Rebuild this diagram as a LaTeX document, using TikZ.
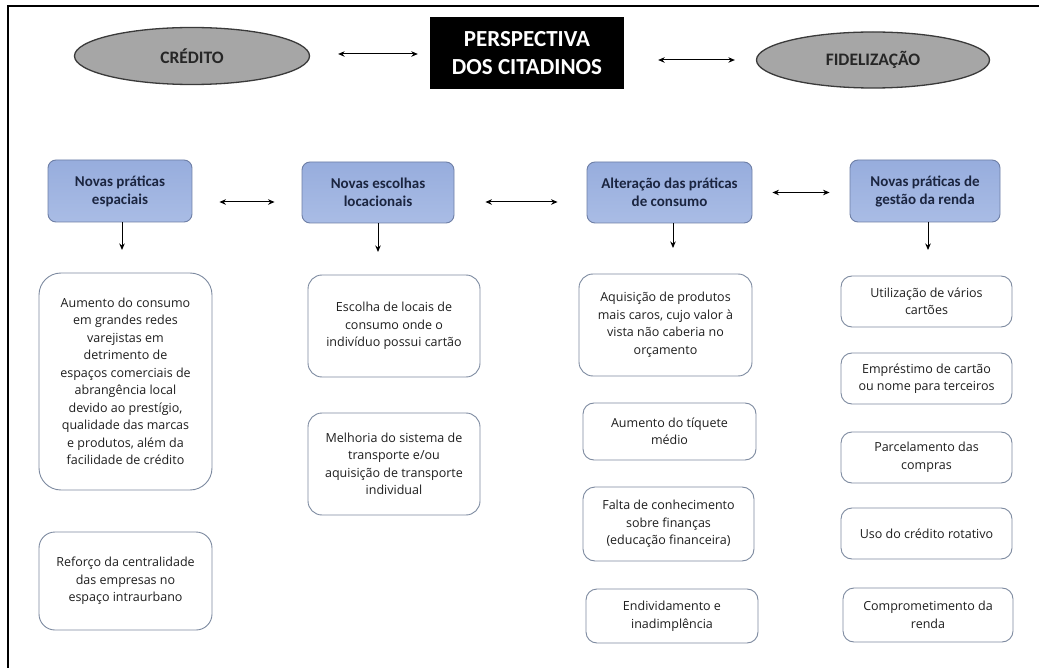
\documentclass[tikz,border=0pt]{standalone}
\usepackage{fontspec}
\setmainfont{Open Sans}
\newfontfamily\carlito{Carlito}
\usetikzlibrary{shapes.geometric,arrows.meta}
\definecolor{hdrtop}{HTML}{97ADDD}
\definecolor{hdrbot}{HTML}{A9BCE5}
\definecolor{hdrborder}{HTML}{6E7FA6}
\definecolor{hdrtext}{HTML}{1B2540}
\definecolor{itemborder}{HTML}{7D8AA0}
\definecolor{itemtext}{HTML}{1E1E1E}
\definecolor{ovalfill}{HTML}{A6A6A6}
\definecolor{ovalborder}{HTML}{3A3A3A}
\definecolor{ovaltext}{HTML}{262626}
\tikzset{
  hdr/.style={draw=hdrborder, line width=0.9pt, rounded corners=8pt,
    top color=hdrtop, bottom color=hdrbot, align=center, inner sep=0pt,
    font=\carlito\bfseries\fontsize{15}{18}\selectfont, text=hdrtext},
  item/.style={draw=itemborder, line width=0.9pt, fill=white, rounded corners=14pt,
    align=center, inner sep=0pt, font=\fontsize{12.5}{17.5}\selectfont, text=itemtext},
  oval/.style={ellipse, draw=ovalborder, line width=1.3pt, fill=ovalfill, inner sep=0pt,
    font=\carlito\bfseries\fontsize{17.5}{20}\selectfont, text=ovaltext},
  titlebox/.style={fill=black, text=white, align=center, inner sep=0pt,
    font=\carlito\bfseries\fontsize{23}{28}\selectfont},
  dbl/.style={{Stealth[length=6.5pt,width=5.5pt]}-{Stealth[length=6.5pt,width=5.5pt]}, line width=1pt},
  downarr/.style={-{Stealth[length=6.5pt,width=5.5pt]}, line width=1pt},
  frame/.style={line width=2.5pt}
}
\begin{document}
\begin{tikzpicture}[x=1pt,y=-1pt]
\useasboundingbox[fill=white] (0,0) rectangle (1039,668);
% frame (top and left edges)
\coordinate (frTR) at (1039,6);
\coordinate (frTL) at (8,6);
\coordinate (frBL) at (8,668);
\draw[frame] (frTR) -- (frTL) -- (frBL);

% top row
\node[oval, minimum width=235pt, minimum height=57pt] (cred) at (192,56) {CRÉDITO};
\node[titlebox, minimum width=194pt, minimum height=72pt] (persp) at (527,53) {PERSPECTIVA\\DOS CITADINOS};
\node[oval, minimum width=233pt, minimum height=56pt] (fid) at (873,60) {FIDELIZAÇÃO};
\draw[dbl, shorten <=28pt, shorten >=12pt] ([yshift=2pt]cred.east) -- ([yshift=2pt]cred.east -| persp.west);
\draw[dbl, shorten <=34pt, shorten >=21pt] (persp.east |- fid.west) -- (fid.west);

% header boxes
\node[hdr, minimum width=144pt, minimum height=62pt] (h1) at (120,191) {Novas práticas\\espaciais};
\node[hdr, minimum width=152pt, minimum height=61pt] (h2) at (378,192.5) {Novas escolhas\\locacionais};
\node[hdr, minimum width=165pt, minimum height=61pt] (h3) at (669.5,192.5) {Alteração das práticas\\de consumo};
\node[hdr, minimum width=150pt, minimum height=62pt] (h4) at (925,191) {Novas práticas de\\gestão da renda};
\draw[dbl, shorten <=27pt, shorten >=27pt] ([yshift=-11pt]h1.east) -- ([yshift=-11pt]h1.east -| h2.west);
\draw[dbl, shorten <=31pt, shorten >=29pt] ([yshift=-9.5pt]h2.east) -- ([yshift=-9.5pt]h2.east -| h3.west);
\draw[dbl, shorten <=20pt, shorten >=20pt] (h3.east) -- (h3.east -| h4.west);

% down arrows
\coordinate (d1) at (122,250);
\coordinate (d2) at (378,252);
\coordinate (d3) at (673,248);
\coordinate (d4) at (928,250);
\draw[downarr] (h1.south -| d1) -- (d1);
\draw[downarr] (h2.south -| d2) -- (d2);
\draw[downarr] (h3.south -| d3) -- (d3);
\draw[downarr] (h4.south -| d4) -- (d4);

% column 1
\node[item, rounded corners=22pt, minimum width=173pt, minimum height=217pt] (a1) at (125.5,381.5)
  {Aumento do consumo\\em grandes redes\\varejistas em\\detrimento de\\espaços comerciais de\\abrangência local\\devido ao prestígio,\\qualidade das marcas\\e produtos, além da\\facilidade de crédito};
\node[item, rounded corners=16pt, minimum width=173pt, minimum height=98pt] (a2) at (125.5,581)
  {Reforço da centralidade\\das empresas no\\espaço intraurbano};

% column 2
\node[item, minimum width=172pt, minimum height=102pt] (b1) at (394,326)
  {Escolha de locais de\\consumo onde o\\indivíduo possui cartão};
\node[item, minimum width=172pt, minimum height=102pt] (b2) at (394,464)
  {Melhoria do sistema de\\transporte e/ou\\aquisição de transporte\\individual};

% column 3
\node[item, minimum width=173pt, minimum height=102pt] (c1) at (665.5,325)
  {Aquisição de produtos\\mais caros, cujo valor à\\vista não caberia no\\orçamento};
\node[item, rounded corners=11pt, minimum width=173pt, minimum height=57pt] (c2) at (669.5,431.5)
  {Aumento do tíquete\\médio};
\node[item, rounded corners=12pt, minimum width=171pt, minimum height=74pt] (c3) at (668.5,524)
  {Falta de conhecimento\\sobre finanças\\(educação financeira)};
\node[item, rounded corners=11pt, minimum width=172pt, minimum height=54pt] (c4) at (672,616)
  {Endividamento e\\inadimplência};

% column 4
\node[item, rounded corners=11pt, minimum width=171pt, minimum height=51pt] (e1) at (926.5,301.5)
  {Utilização de vários\\cartões};
\node[item, rounded corners=11pt, minimum width=171pt, minimum height=51pt] (e2) at (926.5,378.5)
  {Empréstimo de cartão\\ou nome para terceiros};
\node[item, rounded corners=11pt, minimum width=171pt, minimum height=51pt] (e3) at (926.5,457.5)
  {Parcelamento das\\compras};
\node[item, rounded corners=11pt, minimum width=171pt, minimum height=51pt] (e4) at (926.5,533.5)
  {Uso do crédito rotativo};
\node[item, rounded corners=11pt, minimum width=170pt, minimum height=54pt] (e5) at (928,615)
  {Comprometimento da\\renda};
\end{tikzpicture}
\end{document}
